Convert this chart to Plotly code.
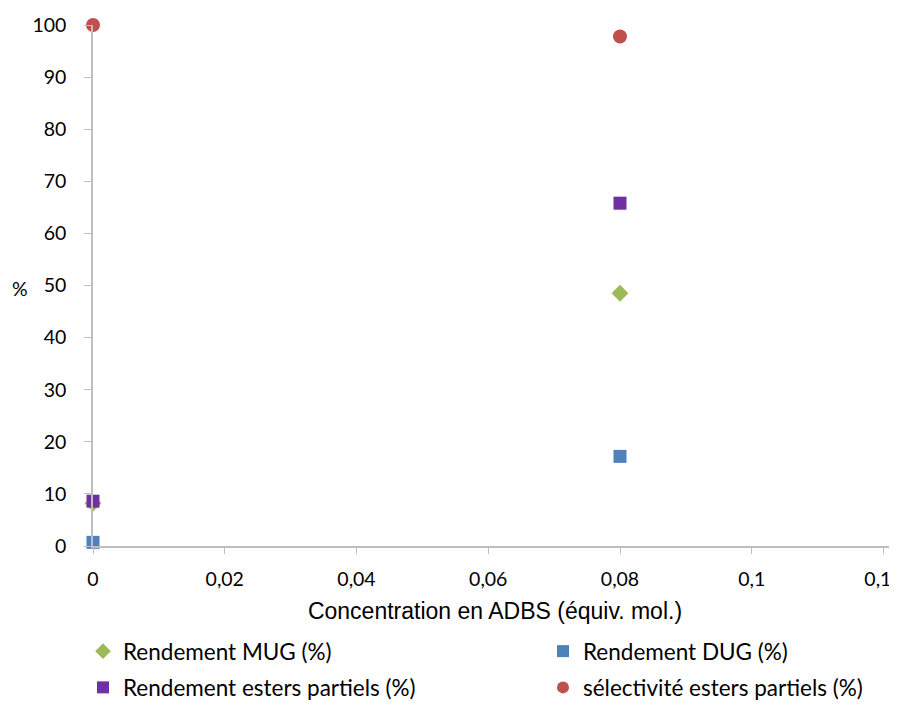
import plotly.graph_objects as go

x_conc = [0, 0.08]
mug = [8.2, 48.5]
dug = [0.7, 17.2]
esters = [8.6, 65.8]
selectivite = [100, 97.8]

series_names = ["Rendement MUG (%)", "Rendement DUG (%)",
                "Rendement esters partiels (%)", "sélectivité esters partiels (%)"]
colors = ["#9BBB59", "#4F81BD", "#7030A0", "#C0504D"]
symbols = ["diamond", "square", "square", "circle"]
sizes = [13, 13, 13, 14]
legend_ids = ["legend", "legend2", "legend", "legend2"]

x_ticks = [0, 0.02, 0.04, 0.06, 0.08, 0.1, 0.12]
x_ticklabels = ["0", "0,02", "0,04", "0,06", "0,08", "0,1", "0,12"]
y_ticks = list(range(0, 101, 10))

fig = go.Figure()
for i, (name, ys, c, s, sz, lg) in enumerate(zip(series_names, [mug, dug, esters, selectivite],
                                                 colors, symbols, sizes, legend_ids)):
    fig.add_trace(go.Scatter(x=x_conc, y=ys, mode="markers", name=name, legend=lg,
                             legendgroup=f"g{i}",
                             marker=dict(color=c, symbol=s, size=sz, line=dict(width=0)),
                             cliponaxis=False))

# figure is drawn with an 8px page offset; coordinates below are figure pixels
L, T, W, H = 85, 17, 804, 521
axis_color = "#BFBFBF"
leg_top = 622
leg_common = dict(orientation="v", yanchor="top", xanchor="left",
                  font=dict(family="Lato", size=22.5), tracegroupgap=4,
                  bgcolor="rgba(0,0,0,0)", itemsizing="constant")
fig.update_layout(
    width=897, height=708,
    margin=dict(l=L, r=897 - L - W, t=T, b=708 - T - H, autoexpand=False),
    plot_bgcolor="white", paper_bgcolor="white",
    font=dict(family="Lato", size=19.5, color="#000000"),
    showlegend=True,
    legend=dict(x=(75 - L) / W, y=-(leg_top - (T + H)) / H, **leg_common),
    legend2=dict(x=(535 - L) / W, y=-(leg_top - (T + H)) / H, **leg_common),
    xaxis=dict(range=[0, 0.12205], tickvals=x_ticks, ticktext=x_ticklabels,
               showgrid=False, zeroline=False, showline=True, linecolor=axis_color,
               linewidth=1.5, ticks="outside", tickcolor=axis_color, ticklen=6,
               ticklabelstandoff=9, automargin=False,
               title=dict(text="Concentration en ADBS (équiv. mol.)",
                          font=dict(family="Liberation Sans", size=23), standoff=14)),
    yaxis=dict(range=[0, 100], tickvals=y_ticks, showgrid=False, zeroline=False,
               showline=True, linecolor=axis_color, linewidth=1.5, ticks="outside",
               tickcolor=axis_color, ticklen=7, ticklabelstandoff=14, automargin=False),
    annotations=[dict(text="%", x=(12 - L) / W, y=(T + H - 280) / H, xref="paper", yref="paper",
                      showarrow=False, xanchor="center", yanchor="middle",
                      font=dict(family="Lato", size=19.5))],
)

fig.write_html("out.html")
